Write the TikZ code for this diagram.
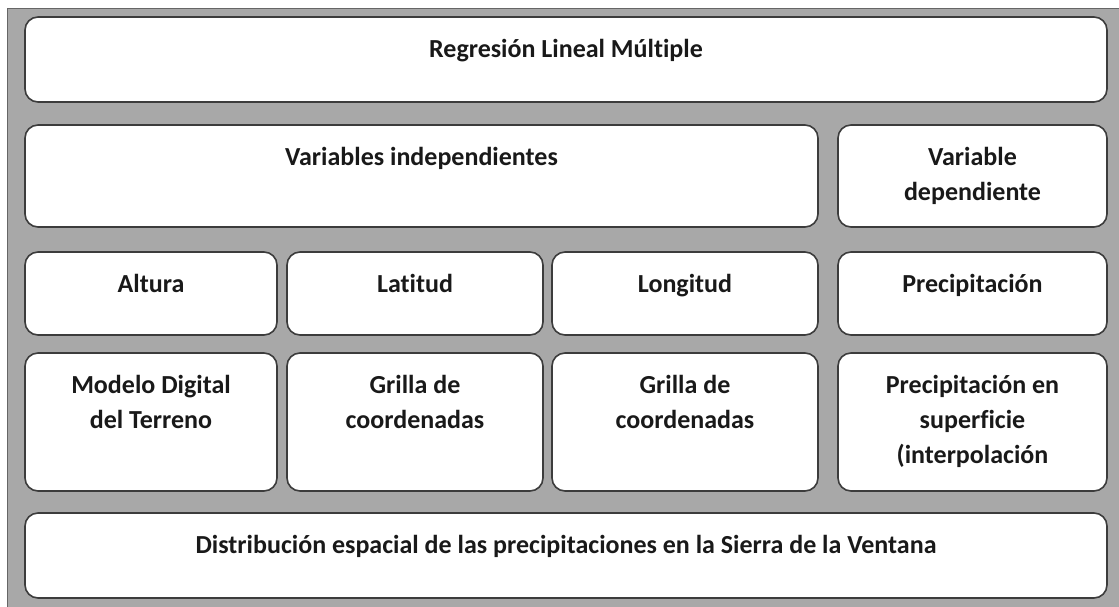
\documentclass[tikz,border=0pt]{standalone}
\usepackage{fontspec}
\setmainfont{Carlito}[Ligatures=NoCommon]
\definecolor{bggray}{RGB}{168,168,168}
\definecolor{edgegray}{RGB}{60,60,60}
\tikzset{
  boxshape/.style={draw=edgegray, fill=white, rounded corners=13pt, line width=1.6pt, inner sep=0pt},
  lbl/.style={anchor=north, align=center, inner sep=0pt, text=black!90,
              font=\fontsize{26}{35}\selectfont\bfseries},
}
\newcommand{\bx}[6]{%
  \node[boxshape, minimum width={#4-#2}, minimum height={#5-#3}] (#1) at ({(#2+#4)/2},{(#3+#5)/2}) {};
  \node[lbl] (#1-t) at ([yshift=-15pt]#1.north) {\rule{0pt}{26pt}#6};
}
\begin{document}
\begin{tikzpicture}[x=1pt,y=-1pt]
\useasboundingbox (0,0) rectangle (1119,606);
\fill[white] (0,0) rectangle (1119,606);
\path[fill=bggray, draw=gray!80!black, line width=0.6pt] (7,8) rectangle (1121,608);
\bx{reg}{25}{17}{1107}{102}{Regresión Lineal Múltiple}
\bx{vind}{25}{125}{818}{227}{Variables independientes}
\bx{vdep}{838}{125}{1107}{227}{Variable\\dependiente}
\bx{alt}{25}{252}{277}{335}{Altura}
\bx{lat}{287}{252}{543}{335}{Latitud}
\bx{lon}{552}{252}{818}{335}{Longitud}
\bx{pre}{838}{252}{1107}{335}{Precipitación}
\bx{mdt}{25}{353}{277}{491}{Modelo Digital\\del Terreno}
\bx{g1}{287}{353}{543}{491}{Grilla de\\coordenadas}
\bx{g2}{552}{353}{818}{491}{Grilla de\\coordenadas}
\bx{ps}{838}{353}{1107}{491}{Precipitación en\\superficie\\(interpolación}
\bx{dist}{25}{513}{1107}{598}{Distribución espacial de las precipitaciones en la Sierra de la Ventana}
\end{tikzpicture}
\end{document}
